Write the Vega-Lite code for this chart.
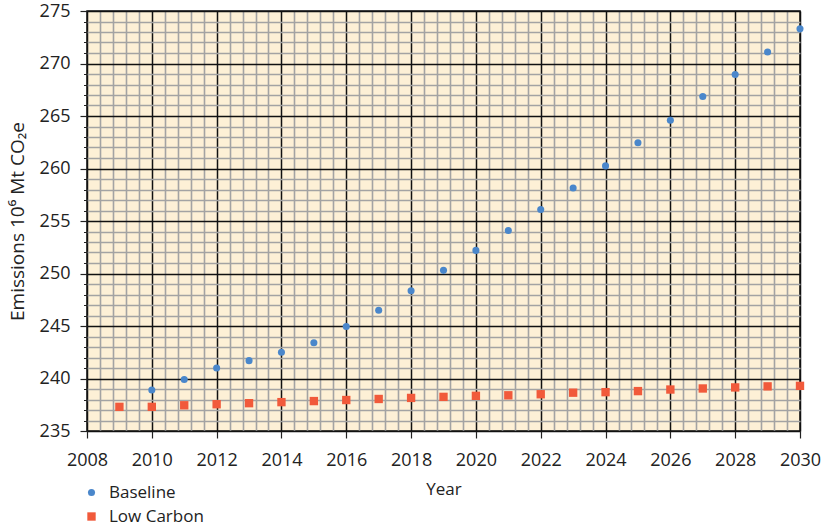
{
  "$schema": "https://vega.github.io/schema/vega-lite/v6.json",
  "width": 713,
  "height": 420,
  "autosize": {"type": "none"},
  "padding": {"left": 87, "top": 11, "right": 25, "bottom": 94},
  "config": {
    "font": "Open Sans",
    "view": {"fill": "#FDF0D6", "stroke": "#111111", "strokeWidth": 1.5},
    "axis": {"labelFont": "Open Sans", "titleFont": "Open Sans", "labelColor": "#222", "titleColor": "#222", "titleFontWeight": "normal"}
  },
  "data": {
    "values": [
      {"year": 2010, "series": "Baseline", "value": 238.9},
      {"year": 2011, "series": "Baseline", "value": 239.9},
      {"year": 2012, "series": "Baseline", "value": 241.0},
      {"year": 2013, "series": "Baseline", "value": 241.7},
      {"year": 2014, "series": "Baseline", "value": 242.5},
      {"year": 2015, "series": "Baseline", "value": 243.4},
      {"year": 2016, "series": "Baseline", "value": 244.95},
      {"year": 2017, "series": "Baseline", "value": 246.5},
      {"year": 2018, "series": "Baseline", "value": 248.35},
      {"year": 2019, "series": "Baseline", "value": 250.3},
      {"year": 2020, "series": "Baseline", "value": 252.2},
      {"year": 2021, "series": "Baseline", "value": 254.1},
      {"year": 2022, "series": "Baseline", "value": 256.1},
      {"year": 2023, "series": "Baseline", "value": 258.15},
      {"year": 2024, "series": "Baseline", "value": 260.25},
      {"year": 2025, "series": "Baseline", "value": 262.45},
      {"year": 2026, "series": "Baseline", "value": 264.6},
      {"year": 2027, "series": "Baseline", "value": 266.85},
      {"year": 2028, "series": "Baseline", "value": 268.95},
      {"year": 2029, "series": "Baseline", "value": 271.1},
      {"year": 2030, "series": "Baseline", "value": 273.3},
      {"year": 2009, "series": "Low Carbon", "value": 237.3},
      {"year": 2010, "series": "Low Carbon", "value": 237.3},
      {"year": 2011, "series": "Low Carbon", "value": 237.45},
      {"year": 2012, "series": "Low Carbon", "value": 237.55},
      {"year": 2013, "series": "Low Carbon", "value": 237.65},
      {"year": 2014, "series": "Low Carbon", "value": 237.75},
      {"year": 2015, "series": "Low Carbon", "value": 237.85},
      {"year": 2016, "series": "Low Carbon", "value": 237.95},
      {"year": 2017, "series": "Low Carbon", "value": 238.05},
      {"year": 2018, "series": "Low Carbon", "value": 238.15},
      {"year": 2019, "series": "Low Carbon", "value": 238.25},
      {"year": 2020, "series": "Low Carbon", "value": 238.35},
      {"year": 2021, "series": "Low Carbon", "value": 238.4},
      {"year": 2022, "series": "Low Carbon", "value": 238.5},
      {"year": 2023, "series": "Low Carbon", "value": 238.65},
      {"year": 2024, "series": "Low Carbon", "value": 238.7},
      {"year": 2025, "series": "Low Carbon", "value": 238.8},
      {"year": 2026, "series": "Low Carbon", "value": 238.95},
      {"year": 2027, "series": "Low Carbon", "value": 239.05},
      {"year": 2028, "series": "Low Carbon", "value": 239.15},
      {"year": 2029, "series": "Low Carbon", "value": 239.25},
      {"year": 2030, "series": "Low Carbon", "value": 239.3}
    ]
  },
  "resolve": {"axis": {"x": "independent", "y": "independent"}},
  "layer": [
    {
      "mark": {"type": "point", "opacity": 0},
      "encoding": {
        "x": {
          "field": "year", "type": "quantitative",
          "scale": {"domain": [2008, 2030], "nice": false, "zero": false},
          "axis": {
            "orient": "bottom", "title": null, "labels": false, "ticks": false, "domain": false,
            "grid": true, "gridColor": "#A3A3A3", "gridWidth": 1.6,
            "values": [2008.4, 2008.8, 2009.2, 2009.6, 2010.4, 2010.8, 2011.2, 2011.6, 2012.4, 2012.8, 2013.2, 2013.6, 2014.4, 2014.8, 2015.2, 2015.6, 2016.4, 2016.8, 2017.2, 2017.6, 2018.4, 2018.8, 2019.2, 2019.6, 2020.4, 2020.8, 2021.2, 2021.6, 2022.4, 2022.8, 2023.2, 2023.6, 2024.4, 2024.8, 2025.2, 2025.6, 2026.4, 2026.8, 2027.2, 2027.6, 2028.4, 2028.8, 2029.2, 2029.6]
          }
        },
        "y": {
          "field": "value", "type": "quantitative",
          "scale": {"domain": [235, 275], "nice": false, "zero": false},
          "axis": {
            "orient": "left", "title": null, "labels": false, "domain": false,
            "ticks": true, "tickSize": 3.5, "tickColor": "#222", "tickWidth": 1,
            "grid": true, "gridColor": "#A3A3A3", "gridWidth": 1.6,
            "values": [236, 237, 238, 239, 241, 242, 243, 244, 246, 247, 248, 249, 251, 252, 253, 254, 256, 257, 258, 259, 261, 262, 263, 264, 266, 267, 268, 269, 271, 272, 273, 274]
          }
        }
      }
    },
    {
      "mark": {"type": "point", "filled": true, "opacity": 1},
      "encoding": {
        "x": {
          "field": "year", "type": "quantitative",
          "axis": {
            "orient": "bottom", "title": "Year", "titleFontSize": 17, "titlePadding": 12,
            "labelFontSize": 18, "labelPadding": 13, "labelFlush": false,
            "values": [2008, 2010, 2012, 2014, 2016, 2018, 2020, 2022, 2024, 2026, 2028, 2030],
            "format": "d",
            "grid": true, "gridColor": "#111111", "gridWidth": 1.5,
            "domain": false, "ticks": true, "tickSize": 7, "tickColor": "#222", "tickWidth": 1.2
          }
        },
        "y": {
          "field": "value", "type": "quantitative",
          "axis": {
            "orient": "left", "title": "Emissions 10⁶ Mt CO₂e", "titleFontSize": 19, "titlePadding": 12,
            "labelFontSize": 18, "labelPadding": 10,
            "values": [235, 240, 245, 250, 255, 260, 265, 270, 275],
            "grid": true, "gridColor": "#111111", "gridWidth": 1.5,
            "domain": false, "ticks": true, "tickSize": 7, "tickColor": "#222", "tickWidth": 1.2
          }
        },
        "color": {
          "field": "series", "type": "nominal",
          "scale": {"domain": ["Baseline", "Low Carbon"], "range": ["#4A87CB", "#F15A3B"]},
          "legend": {
            "title": null, "orient": "none", "legendX": -4, "legendY": 473, "direction": "vertical",
            "labelFontSize": 17, "labelFont": "Open Sans", "labelColor": "#222", "rowPadding": 6, "symbolSize": 72, "labelOffset": 9
          }
        },
        "shape": {
          "field": "series", "type": "nominal",
          "scale": {"domain": ["Baseline", "Low Carbon"], "range": ["circle", "square"]},
          "legend": {
            "title": null, "orient": "none", "legendX": -4, "legendY": 473, "direction": "vertical",
            "labelFontSize": 17, "labelFont": "Open Sans", "labelColor": "#222", "rowPadding": 6, "symbolSize": 72, "labelOffset": 9
          }
        },
        "size": {
          "field": "series", "type": "nominal",
          "scale": {"domain": ["Baseline", "Low Carbon"], "range": [50, 70]},
          "legend": null
        }
      }
    }
  ]
}
